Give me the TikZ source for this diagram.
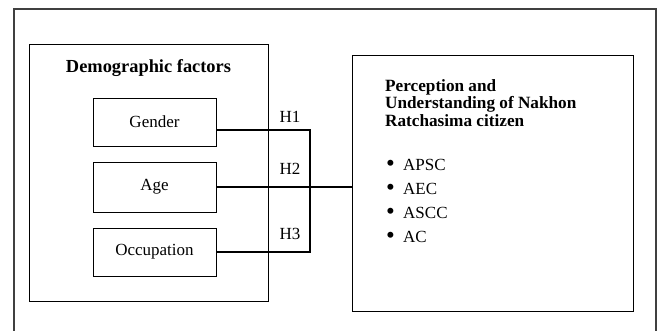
\documentclass[tikz,border=0pt]{standalone}
\usepackage{fontspec}
\setmainfont{Liberation Serif}
\usepackage{xcolor}
\usepackage{tikz}
\usetikzlibrary{positioning, calc}

\begin{document}
\begin{tikzpicture}[x=1pt, y=-1pt,
  factorbox/.style={draw, line width=0.8pt, minimum width=123pt, minimum height=48pt, font=\fontsize{17}{18}\selectfont},
  link/.style={line width=1.6pt},
  hlabel/.style={anchor=base, inner sep=0pt, font=\fontsize{17}{18}\selectfont}]
  \useasboundingbox (0,0) rectangle (659,331);
  \draw[line width=1.2pt, black!75] (14,331) -- (14,9) -- (656,9) -- (656,331);

  \node[draw, line width=0.8pt, minimum width=239pt, minimum height=257pt] (demo) at (148.5,172.5) {};
  \node[anchor=base, inner sep=0pt, font=\fontsize{18.4}{19}\selectfont\bfseries] (demotitle) at (148.5,73) {Demographic factors};
  \node[factorbox] (gender) at (154.5,122) {Gender};
  \node[factorbox, minimum height=50pt] (age) at (154.5,187) {Age};
  \node[factorbox] (occupation) at (154.5,252) {Occupation};

  \node[draw, line width=0.8pt, minimum width=281pt, minimum height=256pt] (result) at (492.5,183) {};
  \node[anchor=north west, inner sep=0pt, align=left, font=\fontsize{17.2}{17.5}\selectfont\bfseries] (resulttitle) at (385,79) {%
    Perception and\\
    Understanding of Nakhon\\
    Ratchasima citizen};
  \foreach \lbl [count=\i] in {APSC, AEC, ASCC, AC}
    \node[anchor=base west, inner sep=0pt, font=\fontsize{17}{18}\selectfont] (item\i) at (386,147.3+23.7*\i) {\makebox[17pt][l]{\raisebox{-1pt}{\fontsize{25}{18}\selectfont\textbullet}}\lbl};

  \coordinate (hub) at (310,188);
  \draw[link] ([yshift=-8pt]gender.east) -| (hub) |- (occupation.east);
  \draw[link] (age.east) -- (result.west |- age.east);

  \node[hlabel] (h1) at (290,123) {H1};
  \node[hlabel] (h2) at (290,175) {H2};
  \node[hlabel] (h3) at (290,240) {H3};
\end{tikzpicture}
\end{document}
